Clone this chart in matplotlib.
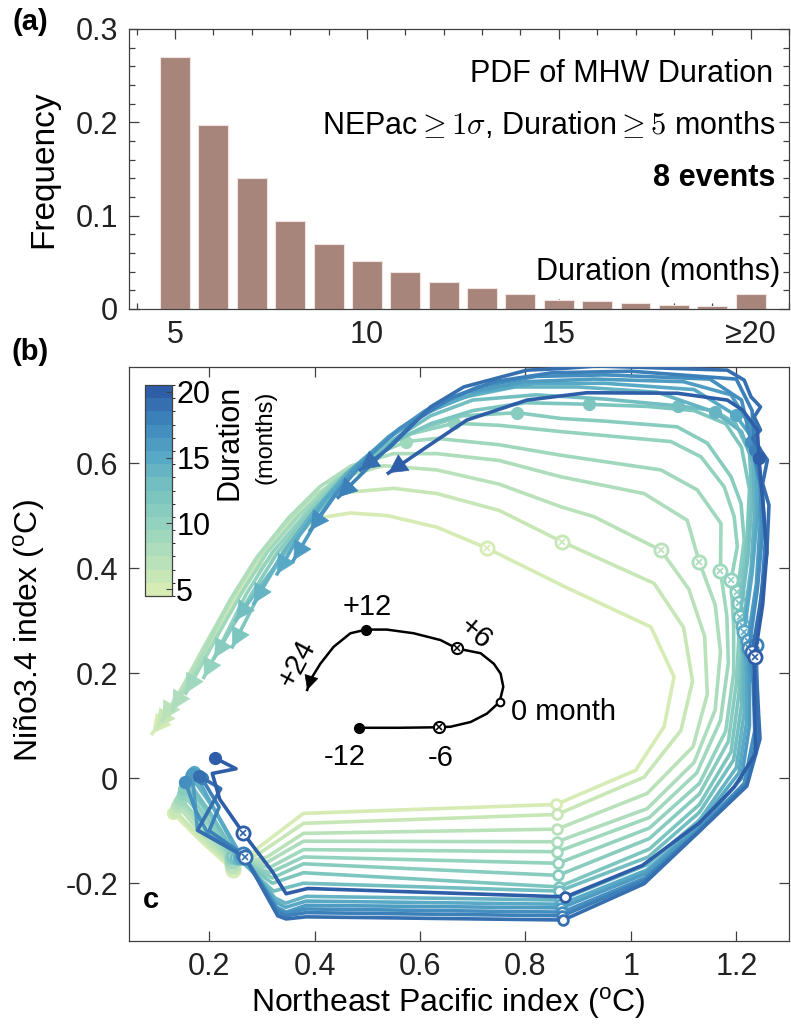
import numpy as np
import matplotlib
matplotlib.use('Agg')
import matplotlib.pyplot as plt
from matplotlib.colors import LinearSegmentedColormap, ListedColormap, BoundaryNorm
from matplotlib.cm import ScalarMappable
from matplotlib.patches import FancyArrowPatch

plt.rcParams['font.family'] = ['Liberation Sans', 'DejaVu Sans']
plt.rcParams['mathtext.fontset'] = 'custom'
plt.rcParams['mathtext.rm'] = 'Liberation Sans'
plt.rcParams['axes.unicode_minus'] = False

# ---- (a) PDF of MHW duration ----
dur_bins = [5, 6, 7, 8, 9, 10, 11, 12, 13, 14, 15, 16, 17, 18, 19, 20]
dur_freq = [0.270, 0.197, 0.140, 0.094, 0.070, 0.051, 0.040, 0.029,
            0.022, 0.016, 0.010, 0.0086, 0.0064, 0.004, 0.0032, 0.016]
dur_ticks = [5, 10, 15, 20]
dur_ticklabels = ['5', '10', '15', '\u226520']

# ---- (b) NEPac / Nino3.4 trajectories, one per duration (months) ----
durations = list(range(5, 21))

x05 = [0.132, 0.190, 0.246, 0.295, 0.379, 0.858, 1.009, 1.063, 1.082, 1.038, 0.880, 0.727, 0.632, 0.538,
       0.468, 0.405, 0.341, 0.284, 0.230, 0.180, 0.135, 0.092]
y05 = [-0.067, -0.125, -0.175, -0.131, -0.067, -0.050, 0.015, 0.098, 0.193, 0.288, 0.362, 0.438, 0.478, 0.500,
       0.505, 0.495, 0.440, 0.390, 0.300, 0.210, 0.140, 0.085]
x06 = [0.135, 0.190, 0.246, 0.300, 0.379, 0.860, 1.025, 1.095, 1.117, 1.100, 1.044, 0.870, 0.750, 0.632,
       0.550, 0.468, 0.405, 0.345, 0.290, 0.240, 0.195, 0.150, 0.100]
y06 = [-0.062, -0.118, -0.170, -0.140, -0.086, -0.069, 0.002, 0.091, 0.185, 0.287, 0.371, 0.450, 0.510, 0.542,
       0.552, 0.545, 0.530, 0.480, 0.410, 0.330, 0.245, 0.165, 0.095]
x07 = [0.140, 0.190, 0.244, 0.310, 0.379, 0.860, 1.031, 1.118, 1.145, 1.140, 1.110, 1.057, 0.930, 0.867,
       0.750, 0.632, 0.530, 0.460, 0.400, 0.340, 0.285, 0.235, 0.190, 0.150, 0.111]
y07 = [-0.052, -0.110, -0.165, -0.150, -0.105, -0.097, -0.029, 0.060, 0.160, 0.270, 0.360, 0.434, 0.498, 0.517,
       0.560, 0.587, 0.595, 0.575, 0.540, 0.480, 0.410, 0.330, 0.250, 0.175, 0.110]
x08 = [0.143, 0.190, 0.244, 0.310, 0.379, 0.860, 1.031, 1.120, 1.160, 1.170, 1.160, 1.130, 1.107, 1.025,
       0.867, 0.750, 0.632, 0.550, 0.470, 0.410, 0.350, 0.290, 0.240, 0.200, 0.165, 0.130]
y08 = [-0.045, -0.100, -0.160, -0.160, -0.120, -0.121, -0.058, 0.030, 0.130, 0.240, 0.330, 0.411, 0.491, 0.542,
       0.574, 0.605, 0.618, 0.618, 0.595, 0.555, 0.495, 0.420, 0.340, 0.260, 0.190, 0.130]
x09 = [0.146, 0.195, 0.243, 0.315, 0.379, 0.860, 1.035, 1.125, 1.170, 1.185, 1.182, 1.170, 1.171, 1.126,
       1.057, 0.867, 0.750, 0.632, 0.574, 0.500, 0.430, 0.370, 0.310, 0.260, 0.215, 0.185, 0.156]
y09 = [-0.040, -0.095, -0.155, -0.170, -0.136, -0.140, -0.075, 0.010, 0.110, 0.220, 0.310, 0.394, 0.485, 0.549,
       0.587, 0.615, 0.635, 0.647, 0.641, 0.610, 0.560, 0.500, 0.430, 0.350, 0.270, 0.215, 0.162]
x10 = [0.150, 0.200, 0.243, 0.315, 0.379, 0.862, 1.035, 1.130, 1.180, 1.195, 1.195, 1.190, 1.202, 1.196,
       1.177, 1.133, 1.076, 0.867, 0.750, 0.665, 0.580, 0.510, 0.440, 0.380, 0.320, 0.270, 0.230, 0.190]
y10 = [-0.030, -0.090, -0.150, -0.180, -0.150, -0.162, -0.095, -0.010, 0.090, 0.200, 0.290, 0.377, 0.441, 0.498,
       0.555, 0.612, 0.641, 0.660, 0.672, 0.676, 0.655, 0.620, 0.565, 0.500, 0.430, 0.350, 0.270, 0.192]
x11 = [0.152, 0.200, 0.245, 0.320, 0.379, 0.862, 1.035, 1.130, 1.185, 1.200, 1.205, 1.202, 1.215, 1.209,
       1.190, 1.145, 1.088, 0.950, 0.867, 0.784, 0.680, 0.600, 0.520, 0.450, 0.390, 0.330, 0.280, 0.245, 0.210]
y11 = [-0.020, -0.080, -0.150, -0.190, -0.163, -0.185, -0.115, -0.030, 0.070, 0.180, 0.270, 0.355, 0.453, 0.523,
       0.574, 0.638, 0.669, 0.680, 0.685, 0.696, 0.690, 0.665, 0.625, 0.570, 0.505, 0.430, 0.350, 0.290, 0.229]
x12 = [0.154, 0.205, 0.248, 0.320, 0.379, 0.863, 1.035, 1.130, 1.190, 1.205, 1.210, 1.206, 1.220, 1.225,
       1.210, 1.180, 1.120, 1.030, 0.920, 0.800, 0.700, 0.620, 0.540, 0.470, 0.410, 0.350, 0.300, 0.244]
y12 = [-0.010, -0.075, -0.148, -0.200, -0.180, -0.207, -0.135, -0.050, 0.050, 0.160, 0.250, 0.333, 0.450, 0.550,
       0.630, 0.675, 0.700, 0.708, 0.712, 0.715, 0.700, 0.675, 0.635, 0.580, 0.515, 0.440, 0.360, 0.250]
x13 = [0.160, 0.205, 0.252, 0.322, 0.379, 0.864, 1.033, 1.130, 1.195, 1.210, 1.212, 1.207, 1.222, 1.230,
       1.225, 1.199, 1.159, 1.089, 0.950, 0.820, 0.700, 0.620, 0.550, 0.480, 0.420, 0.360, 0.300, 0.251]
y13 = [-0.005, -0.070, -0.150, -0.215, -0.200, -0.215, -0.150, -0.065, 0.035, 0.140, 0.230, 0.307, 0.420, 0.530,
       0.620, 0.675, 0.700, 0.709, 0.722, 0.730, 0.720, 0.690, 0.645, 0.590, 0.525, 0.450, 0.370, 0.301]
x14 = [0.165, 0.210, 0.258, 0.325, 0.345, 0.384, 0.866, 1.030, 1.130, 1.200, 1.215, 1.215, 1.213, 1.228,
       1.235, 1.232, 1.210, 1.159, 1.050, 0.900, 0.780, 0.680, 0.600, 0.530, 0.460, 0.400, 0.340, 0.285]
y14 = [0.005, -0.060, -0.150, -0.228, -0.238, -0.225, -0.232, -0.165, -0.080, 0.020, 0.125, 0.210, 0.290, 0.400,
       0.510, 0.600, 0.660, 0.697, 0.735, 0.745, 0.745, 0.725, 0.690, 0.640, 0.580, 0.510, 0.430, 0.333]
x15 = [0.172, 0.205, 0.262, 0.325, 0.345, 0.384, 0.868, 1.030, 1.128, 1.205, 1.220, 1.220, 1.215, 1.230,
       1.240, 1.238, 1.225, 1.199, 1.120, 0.950, 0.820, 0.710, 0.620, 0.550, 0.480, 0.420, 0.370, 0.329]
y15 = [0.012, -0.050, -0.150, -0.235, -0.246, -0.234, -0.240, -0.175, -0.090, 0.010, 0.110, 0.200, 0.279, 0.390,
       0.500, 0.590, 0.655, 0.691, 0.740, 0.752, 0.752, 0.735, 0.700, 0.655, 0.595, 0.530, 0.460, 0.389]
x16 = [0.168, 0.178, 0.266, 0.327, 0.346, 0.384, 0.868, 1.028, 1.128, 1.210, 1.225, 1.225, 1.222, 1.238,
       1.245, 1.245, 1.228, 1.190, 1.100, 0.930, 0.800, 0.690, 0.610, 0.540, 0.470, 0.410, 0.360]
y16 = [0.008, -0.099, -0.148, -0.245, -0.255, -0.242, -0.247, -0.182, -0.095, 0.000, 0.100, 0.190, 0.262, 0.370,
       0.480, 0.580, 0.669, 0.730, 0.755, 0.760, 0.755, 0.735, 0.700, 0.650, 0.585, 0.500, 0.415]
x17 = [0.155, 0.174, 0.200, 0.266, 0.330, 0.346, 0.384, 0.870, 1.027, 1.127, 1.215, 1.235, 1.232, 1.224,
       1.240, 1.250, 1.245, 1.228, 1.210, 1.150, 0.950, 0.820, 0.710, 0.630, 0.560, 0.500, 0.440, 0.392]
y17 = [-0.008, -0.061, -0.110, -0.147, -0.250, -0.257, -0.249, -0.255, -0.190, -0.100, -0.010, 0.090, 0.180, 0.247,
       0.360, 0.470, 0.560, 0.641, 0.720, 0.760, 0.768, 0.765, 0.745, 0.710, 0.665, 0.610, 0.540, 0.472]
x18 = [0.186, 0.219, 0.200, 0.264, 0.330, 0.346, 0.384, 0.870, 1.026, 1.127, 1.220, 1.240, 1.240, 1.237,
       1.248, 1.255, 1.250, 1.235, 1.230, 1.200, 1.000, 0.850, 0.740, 0.660, 0.590, 0.520, 0.445]
y18 = [0.000, -0.055, -0.100, -0.145, -0.255, -0.262, -0.256, -0.262, -0.195, -0.103, -0.010, 0.080, 0.170, 0.253,
       0.350, 0.450, 0.540, 0.625, 0.700, 0.760, 0.775, 0.772, 0.755, 0.725, 0.680, 0.610, 0.535]
x19 = [0.180, 0.222, 0.178, 0.268, 0.330, 0.346, 0.384, 0.872, 1.025, 1.126, 1.220, 1.245, 1.240, 1.230,
       1.245, 1.258, 1.262, 1.250, 1.259, 1.231, 1.246, 1.234, 1.246, 1.228, 1.215, 1.183, 0.936, 0.867,
       0.803, 0.683, 0.620, 0.544, 0.487]
y19 = [0.005, -0.020, -0.099, -0.150, -0.262, -0.268, -0.264, -0.270, -0.201, -0.105, -0.015, 0.075, 0.165, 0.240,
       0.330, 0.430, 0.520, 0.561, 0.606, 0.647, 0.663, 0.688, 0.707, 0.726, 0.758, 0.777, 0.785, 0.780,
       0.777, 0.745, 0.707, 0.631, 0.587]
x20 = [0.212, 0.251, 0.206, 0.220, 0.265, 0.320, 0.346, 0.387, 0.876, 1.022, 1.129, 1.196, 1.237, 1.234,
       1.235, 1.250, 1.258, 1.250, 1.243, 1.240, 1.212, 1.183, 1.088, 0.917, 0.803, 0.689, 0.613, 0.540]
y20 = [0.038, 0.018, 0.009, -0.040, -0.105, -0.178, -0.220, -0.210, -0.226, -0.166, -0.086, -0.017, 0.047, 0.174,
       0.231, 0.330, 0.430, 0.530, 0.609, 0.663, 0.701, 0.720, 0.733, 0.734, 0.720, 0.682, 0.631, 0.581]

traj_x = [x05, x06, x07, x08, x09, x10, x11, x12, x13, x14, x15, x16, x17, x18, x19, x20]
traj_y = [y05, y06, y07, y08, y09, y10, y11, y12, y13, y14, y15, y16, y17, y18, y19, y20]

# vertex index of the -6, 0, +6 and +12 month markers (month -12 is the first vertex)
idx_m6 = [2, 2, 2, 2, 2, 2, 2, 2, 2, 2, 2, 2, 3, 3, 3, 4]
idx_0 = [5, 5, 5, 5, 5, 5, 5, 5, 5, 6, 6, 6, 7, 7, 7, 8]
idx_p6 = [11, 11, 11, 11, 11, 11, 11, 11, 11, 12, 12, 12, 13, 13, 13, 14]
idx_p12 = [None, None, None, None, 18, 19, 19, 18, 17, 17, 17, 16, 17, 17, None, 18]

# schematic of the month markers
key_x = [0.484, 0.560, 0.636, 0.658, 0.696, 0.727, 0.751, 0.758, 0.753, 0.740, 0.715, 0.670, 0.639, 0.588,
         0.537, 0.498, 0.468, 0.436, 0.411, 0.392, 0.386]
key_y = [0.096, 0.096, 0.097, 0.098, 0.107, 0.123, 0.145, 0.174, 0.199, 0.218, 0.238, 0.247, 0.263, 0.276,
         0.283, 0.283, 0.276, 0.250, 0.218, 0.187, 0.168]
key_idx = {'m12': 0, 'm6': 2, 'zero': 6, 'p6': 11, 'p12': 15}

# colours
cmap_base = LinearSegmentedColormap.from_list(
    'dur', ['#d6ecb4', '#b3e0bb', '#93d2bf', '#78c3c0', '#58a9c5', '#3f88bd', '#2f5ea8'])
colors = [cmap_base(i / 15) for i in range(16)]
bar_color = '#a8857a'
axis_color = '#404040'

fig = plt.figure(figsize=(7.91, 10.26), dpi=100)
W, H = 791, 1026

# ---------------- panel (a) ----------------
ax1 = fig.add_axes([129 / W, 1 - 309 / H, 660 / W, 280 / H])
ax1.bar(dur_bins, dur_freq, width=0.78, color=bar_color, edgecolor='#f1e4e0', linewidth=0.8, zorder=2)
ax1.set_xlim(3.8, 21.0)
ax1.set_ylim(0, 0.3)
ax1.set_xticks(dur_ticks)
ax1.set_xticklabels(dur_ticklabels)
ax1.set_xticks(np.arange(4, 22), minor=True)
ax1.set_yticks([0, 0.1, 0.2, 0.3])
ax1.set_yticklabels(['0', '0.1', '0.2', '0.3'])
ax1.set_yticks(np.arange(0, 0.301, 0.02), minor=True)
ax1.set_ylabel('Frequency', fontsize=24)
ax1.yaxis.set_label_coords(-0.105, 0.5)

ax1.text(0.976, 0.839, 'PDF of MHW Duration', transform=ax1.transAxes,
         ha='right', va='center', fontsize=22)
ax1.text(0.980, 0.657, r'NEPac$\geq 1\sigma$, Duration$\geq 5$ months', transform=ax1.transAxes,
         ha='right', va='center', fontsize=22, math_fontfamily='cm')
ax1.text(0.980, 0.468, '8 events', transform=ax1.transAxes,
         ha='right', va='center', fontsize=22, fontweight='bold')
ax1.text(0.986, 0.132, 'Duration (months)', transform=ax1.transAxes,
         ha='right', va='center', fontsize=22)

# ---------------- panel (b) ----------------
ax2 = fig.add_axes([129 / W, 1 - 941 / H, 660 / W, 574 / H])
ax2.set_xlim(0.048, 1.30)
ax2.set_ylim(-0.31, 0.783)

for k in range(len(durations)):
    xs, ys, c = traj_x[k], traj_y[k], colors[k]
    z = 2 + k * 0.05
    ax2.plot(xs, ys, color=c, lw=2.6, solid_joinstyle='round', zorder=z)
    arr = FancyArrowPatch((xs[-2], ys[-2]), (xs[-1], ys[-1]),
                          arrowstyle='-|>,head_length=0.85,head_width=0.45',
                          mutation_scale=15, color=c, lw=0.5,
                          shrinkA=0, shrinkB=0, zorder=z)
    ax2.add_patch(arr)
    # month -12 (filled)
    ax2.plot(xs[0], ys[0], 'o', ms=8.5, color=c, zorder=z + 0.01)
    # month 0 (open)
    i0 = idx_0[k]
    ax2.plot(xs[i0], ys[i0], 'o', ms=7, mfc='white', mec=c, mew=2, zorder=z + 0.01)
    # month -6 and +6 (crossed)
    for i in (idx_m6[k], idx_p6[k]):
        ax2.plot(xs[i], ys[i], 'o', ms=9.5, mfc='white', mec=c, mew=2, zorder=z + 0.01)
        ax2.plot(xs[i], ys[i], 'x', ms=4.5, color=c, mew=1.2, zorder=z + 0.02)
    # month +12 (filled)
    if idx_p12[k] is not None:
        i = idx_p12[k]
        ax2.plot(xs[i], ys[i], 'o', ms=8.5, color=c, zorder=z + 0.01)

# marker key
ax2.plot(key_x, key_y, color='k', lw=1.8, zorder=5)
ax2.add_patch(FancyArrowPatch((key_x[-2], key_y[-2]), (key_x[-1], key_y[-1]),
                              arrowstyle='-|>,head_length=0.8,head_width=0.4',
                              mutation_scale=12, color='k', lw=0.5,
                              shrinkA=0, shrinkB=0, zorder=5))
for name in ('m12', 'p12'):
    i = key_idx[name]
    ax2.plot(key_x[i], key_y[i], 'o', ms=7, color='k', zorder=6)
i = key_idx['zero']
ax2.plot(key_x[i], key_y[i], 'o', ms=5.5, mfc='white', mec='k', mew=1.5, zorder=6)
for name in ('m6', 'p6'):
    i = key_idx[name]
    ax2.plot(key_x[i], key_y[i], 'o', ms=8, mfc='white', mec='k', mew=1.5, zorder=6)
    ax2.plot(key_x[i], key_y[i], 'x', ms=4, color='k', mew=1.1, zorder=7)

ax2.text(0.500, 0.326, '+12', fontsize=21, ha='center', va='center')
ax2.text(0.705, 0.276, '+6', fontsize=21, ha='center', va='center', rotation=-40)
ax2.text(0.367, 0.218, '+24', fontsize=21, ha='center', va='center', rotation=62)
ax2.text(0.772, 0.126, '0 month', fontsize=21, ha='left', va='center')
ax2.text(0.458, 0.040, '-12', fontsize=21, ha='center', va='center')
ax2.text(0.639, 0.038, '-6', fontsize=21, ha='center', va='center')
ax2.text(0.090, -0.232, 'c', fontsize=21, fontweight='bold', ha='center', va='center')

ax2.set_xticks([0.2, 0.4, 0.6, 0.8, 1.0, 1.2])
ax2.set_xticklabels(['0.2', '0.4', '0.6', '0.8', '1', '1.2'])
ax2.set_yticks([-0.2, 0, 0.2, 0.4, 0.6])
ax2.set_yticklabels(['-0.2', '0', '0.2', '0.4', '0.6'])
ax2.set_xlabel(r'Northeast Pacific index ($^{\rm o}$C)', fontsize=23)
ax2.set_ylabel('Ni\u00f1o3.4 index ($^{\\rm o}$C)', fontsize=23)
ax2.xaxis.set_label_coords(0.483, -0.078)
ax2.yaxis.set_label_coords(-0.124, 0.54)

for ax in (ax1, ax2):
    for s in ax.spines.values():
        s.set_color(axis_color)
        s.set_linewidth(0.9)
    ax.tick_params(which='both', direction='in', top=True, right=True,
                   color=axis_color, labelcolor='#222222', labelsize=22, width=0.9)
    ax.tick_params(which='major', length=7, pad=8)
    ax.tick_params(which='minor', length=4)

# colour bar for duration
cax = fig.add_axes([145 / W, 1 - 596 / H, 27 / W, 211 / H])
cmap_d = ListedColormap(colors)
norm_d = BoundaryNorm(np.arange(4.5, 21.5, 1), cmap_d.N)
cb = fig.colorbar(ScalarMappable(norm=norm_d, cmap=cmap_d), cax=cax, ticks=[5, 10, 15, 20])
cb.outline.set_linewidth(0.9)
cb.outline.set_edgecolor(axis_color)
cax.tick_params(labelsize=22, length=4, direction='in', color=axis_color, pad=3)
fig.text(230 / W, 1 - 442 / H, 'Duration', rotation=90, fontsize=22, ha='center', va='center')
fig.text(265 / W, 1 - 437 / H, '(months)', rotation=90, fontsize=17, ha='center', va='center')

fig.text(30 / W, 1 - 22 / H, '(a)', fontsize=21, fontweight='bold', ha='center', va='center')
fig.text(30 / W, 1 - 352 / H, '(b)', fontsize=21, fontweight='bold', ha='center', va='center')

fig.savefig('out.png', dpi=100)
